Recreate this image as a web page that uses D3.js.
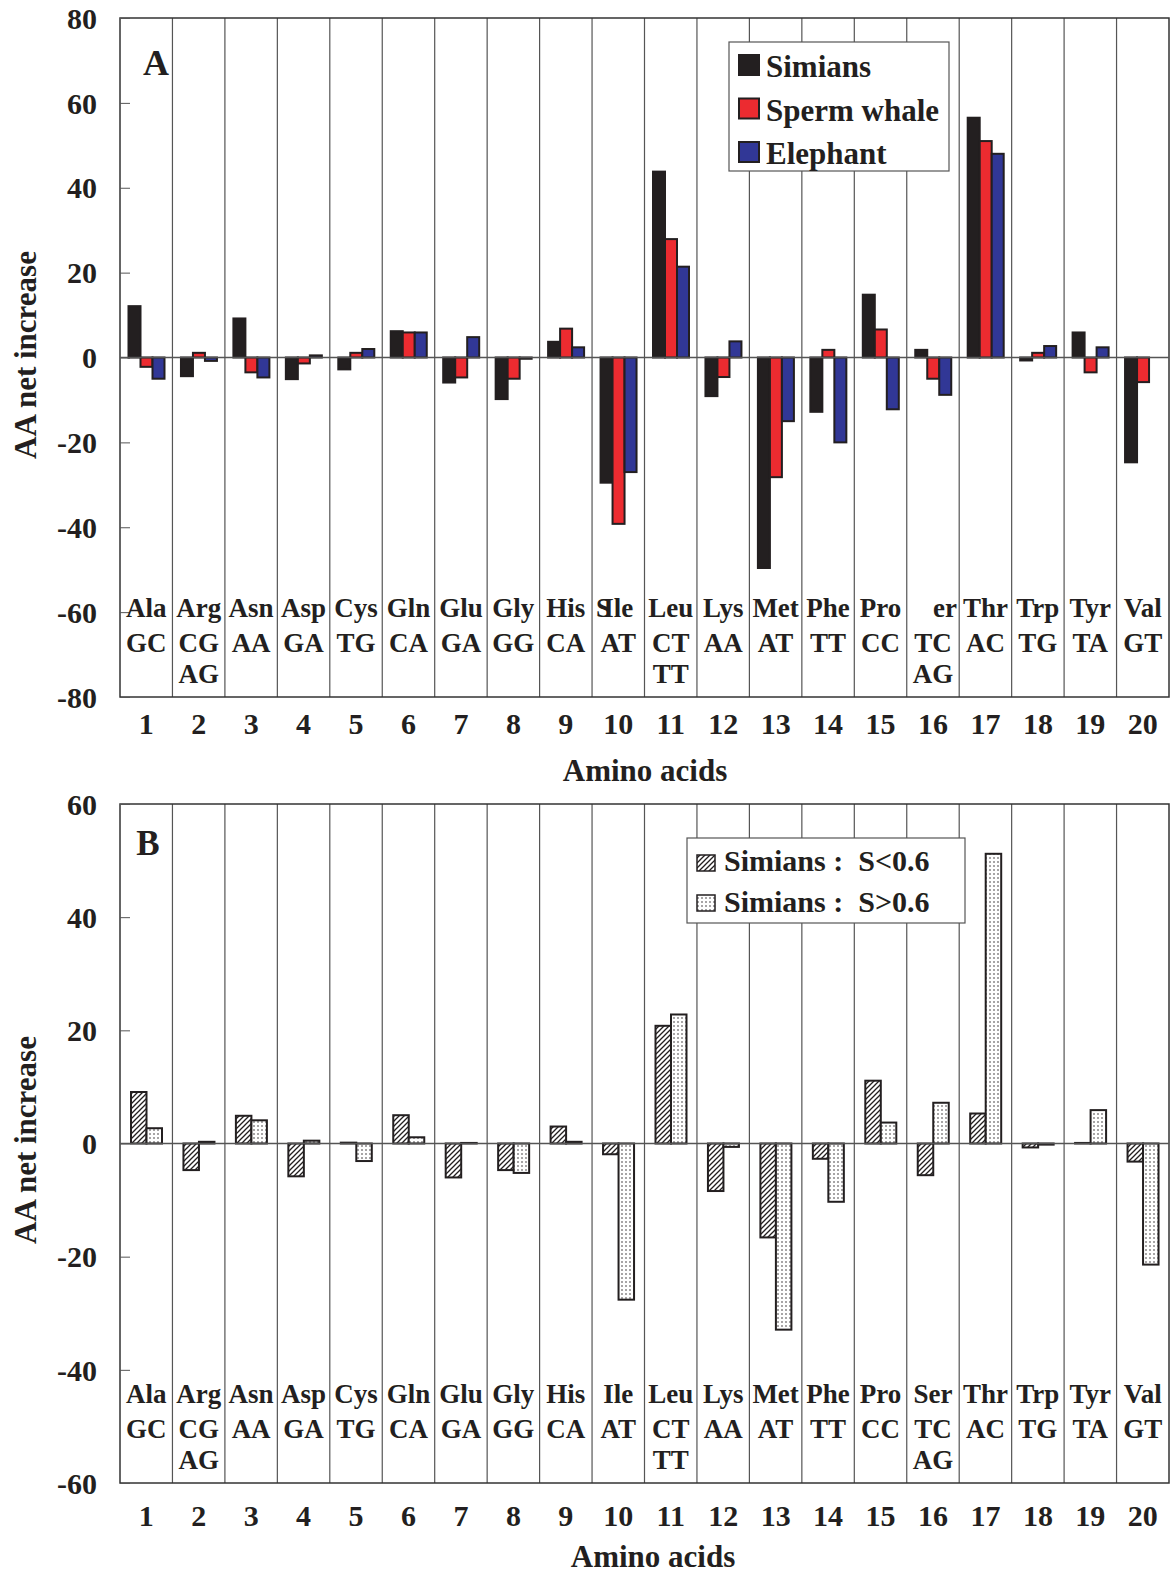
<!DOCTYPE html>
<html>
<head>
<meta charset="utf-8">
<script src="https://cdn.jsdelivr.net/npm/d3@7"></script>
<style>
  body { margin: 0; background: #fff; }
  svg text { font-family: "Liberation Serif", "Times New Roman", serif; font-weight: bold; fill: #231f20; }
</style>
</head>
<body>
<svg id="chart" width="1171" height="1573"></svg>
<script>
// amino acids and their codon rows
const aminoAcids = ["Ala","Arg","Asn","Asp","Cys","Gln","Glu","Gly","His","Ile","Leu","Lys","Met","Phe","Pro","Ser","Thr","Trp","Tyr","Val"];
const codons = [["GC"],["CG","AG"],["AA"],["GA"],["TG"],["CA"],["GA"],["GG"],["CA"],["AT"],["CT","TT"],["AA"],["AT"],["TT"],["CC"],["TC","AG"],["AC"],["TG"],["TA"],["GT"]];
const numbers = d3.range(1, 21).map(String);

// panel A series
const simians    = [12.1, -4.4, 9.2, -5.1, -2.8, 6.2, -5.9, -9.8, 3.7, -29.5, 43.8, -9.1, -49.6, -12.8, 14.8, 1.8, 56.5, -0.7, 5.9, -24.7];
const spermWhale = [-2.2, 1.1, -3.5, -1.4, 1.1, 5.9, -4.7, -5.0, 6.8, -39.2, 27.9, -4.6, -28.2, 1.8, 6.6, -5.0, 51.0, 1.1, -3.5, -5.8];
const elephant   = [-5.0, -0.8, -4.7, 0.5, 2.0, 5.9, 4.8, -0.3, 2.4, -27.0, 21.4, 3.8, -15.0, -20.0, -12.2, -8.8, 48.0, 2.7, 2.4, null];
const seriesA = ["Simians", "Sperm whale", "Elephant"];
const colorsA = ["#231f20", "#ec2b30", "#313796"];
const ticksA = [-80, -60, -40, -20, 0, 20, 40, 60, 80];

// panel B series
const sLow  = [9.1, -4.7, 4.9, -5.8, 0.15, 5.0, -6.0, -4.7, 3.0, -1.9, 20.8, -8.4, -16.6, -2.7, 11.1, -5.6, 5.3, -0.7, 0.1, -3.2];
const sHigh = [2.7, 0.3, 4.1, 0.5, -3.1, 1.1, 0.1, -5.2, 0.3, -27.6, 22.8, -0.6, -32.9, -10.3, 3.7, 7.2, 51.2, -0.2, 5.9, -21.4];
const seriesB = ["Simians :  S<0.6", "Simians :  S>0.6"];
const ticksB = [-60, -40, -20, 0, 20, 40, 60];

const svg = d3.select("#chart");
const left = 120, right = 1169;
const ink = "#231f20";

// fill patterns for panel B
const defs = svg.append("defs");
const hatch = defs.append("pattern").attr("id", "hatch")
  .attr("patternUnits", "userSpaceOnUse").attr("width", 5).attr("height", 5);
hatch.append("rect").attr("width", 5).attr("height", 5).attr("fill", "#fff");
hatch.append("path").attr("d", "M0,5 L5,0 M-1,1 L1,-1 M4,6 L6,4")
  .attr("stroke", ink).attr("stroke-width", 1.3);
const dots = defs.append("pattern").attr("id", "dots")
  .attr("patternUnits", "userSpaceOnUse").attr("width", 4).attr("height", 4);
dots.append("rect").attr("width", 4).attr("height", 4).attr("fill", "#fff");
dots.append("circle").attr("cx", 2).attr("cy", 2).attr("r", 0.75).attr("fill", ink);

const x = d3.scaleBand().domain(numbers).range([left, right]).padding(0);

function drawPanel(cfg) {
  const g = svg.append("g");
  const y = d3.scaleLinear().domain(cfg.domain).range([cfg.bottom, cfg.top]);

  // column separators
  g.selectAll(".sep").data(numbers.slice(1)).join("line")
    .attr("x1", d => x(d)).attr("x2", d => x(d))
    .attr("y1", cfg.top).attr("y2", cfg.bottom)
    .attr("stroke", "#555").attr("stroke-width", 1.2);

  // frame
  g.append("rect").attr("x", left).attr("y", cfg.top)
    .attr("width", right - left).attr("height", cfg.bottom - cfg.top)
    .attr("fill", "none").attr("stroke", "#333").attr("stroke-width", 1.5);

  // y axis with inward ticks, plain hyphen for negatives
  const yAxis = g.append("g").attr("transform", `translate(${left},0)`)
    .call(d3.axisLeft(y).tickValues(cfg.ticks).tickFormat(d => String(d))
      .tickSize(-10).tickPadding(23).tickSizeOuter(0));
  yAxis.select(".domain").remove();
  yAxis.selectAll(".tick line").attr("stroke", "#555");
  yAxis.selectAll("text").attr("font-size", 30).attr("fill", ink)
    .attr("font-family", "Liberation Serif").attr("font-weight", "bold").attr("dy", "0.34em");

  // bars
  const inner = d3.scaleBand().domain(d3.range(cfg.series.length)).range(cfg.inner);
  cfg.series.forEach((vals, si) => {
    g.selectAll(".bar" + si).data(vals.map((v, i) => ({ v, i })).filter(d => d.v !== null))
      .join("rect")
      .attr("x", d => x(numbers[d.i]) + inner(si))
      .attr("width", inner.bandwidth())
      .attr("y", d => y(Math.max(0, d.v)))
      .attr("height", d => Math.abs(y(d.v) - y(0)))
      .attr("fill", cfg.fills[si])
      .attr("stroke", ink).attr("stroke-width", 2);
  });

  // zero line
  g.append("line").attr("x1", left).attr("x2", right)
    .attr("y1", y(0)).attr("y2", y(0))
    .attr("stroke", "#555").attr("stroke-width", 1.3);

  // amino acid names and codons
  g.selectAll(".aa").data(cfg.names).join("text")
    .attr("x", (d, i) => x(numbers[i]) + x.bandwidth() / 2)
    .attr("y", cfg.bottom - 80)
    .attr("text-anchor", "middle").attr("font-size", 27)
    .text(d => d);
  codons.forEach((rows, i) => {
    rows.forEach((c, r) => {
      g.append("text")
        .attr("x", x(numbers[i]) + x.bandwidth() / 2)
        .attr("y", cfg.bottom - 45 + r * 31)
        .attr("text-anchor", "middle").attr("font-size", 27)
        .text(c);
    });
  });

  // x axis numbers
  const xAxis = g.append("g").attr("transform", `translate(0,${cfg.bottom})`)
    .call(d3.axisBottom(x).tickSize(0).tickPadding(cfg.numPad));
  xAxis.select(".domain").remove();
  xAxis.selectAll("text").attr("font-size", 30).attr("fill", ink)
    .attr("font-family", "Liberation Serif").attr("font-weight", "bold");

  g.append("text").attr("x", cfg.titleX).attr("y", cfg.bottom + 84)
    .attr("text-anchor", "middle").attr("font-size", 31).text("Amino acids");

  g.append("text")
    .attr("transform", `translate(36,${cfg.yTitleY}) rotate(-90)`)
    .attr("text-anchor", "middle").attr("font-size", 31).text("AA net increase");

  g.append("text").attr("x", cfg.letter.x).attr("y", cfg.letter.y)
    .attr("text-anchor", "middle").attr("font-size", cfg.letter.size).text(cfg.letter.t);

  return g;
}

// panel A labels: the "S" of Ser sits on top of Ile in the original
const namesA = aminoAcids.map(d => d === "Ser" ? "" : d);
const gA = drawPanel({
  top: 18, bottom: 697, domain: [-80, 80], ticks: ticksA,
  series: [simians, spermWhale, elephant], fills: colorsA, inner: [8.5, 44.5],
  names: namesA, numPad: 16, titleX: 645, yTitleY: 355,
  letter: { t: "A", x: 156, y: 75, size: 36 }
});
gA.append("text").attr("x", x("10") + 4).attr("y", 697 - 80)
  .attr("font-size", 27).text("S");
gA.append("text").attr("x", x("16") + x.bandwidth() / 2 + 24).attr("y", 697 - 80)
  .attr("text-anchor", "end").attr("font-size", 27).text("er");

drawPanel({
  top: 804, bottom: 1483, domain: [-60, 60], ticks: ticksB,
  series: [sLow, sHigh], fills: ["url(#hatch)", "url(#dots)"], inner: [11, 42],
  names: aminoAcids, numPad: 22, titleX: 653, yTitleY: 1140,
  letter: { t: "B", x: 148, y: 855, size: 35 }
});

// legend A
const legA = svg.append("g");
legA.append("rect").attr("x", 729).attr("y", 42).attr("width", 220).attr("height", 129)
  .attr("fill", "#fff").attr("stroke", "#555").attr("stroke-width", 1.2);
seriesA.forEach((s, i) => {
  legA.append("rect").attr("x", 739).attr("y", 55 + i * 43.5).attr("width", 20).attr("height", 20)
    .attr("fill", colorsA[i]).attr("stroke", ink).attr("stroke-width", 2);
  legA.append("text").attr("x", 766).attr("y", 77 + i * 43.5).attr("font-size", 31).text(s);
});

// legend B
const legB = svg.append("g");
legB.append("rect").attr("x", 687).attr("y", 838).attr("width", 278).attr("height", 85)
  .attr("fill", "#fff").attr("stroke", "#555").attr("stroke-width", 1.2);
["url(#hatch)", "url(#dots)"].forEach((f, i) => {
  legB.append("rect").attr("x", 697).attr("y", 855 + i * 40).attr("width", 18).attr("height", 16)
    .attr("fill", f).attr("stroke", ink).attr("stroke-width", 1.5);
  legB.append("text").attr("x", 724).attr("y", 871 + i * 41).attr("font-size", 30)
    .attr("xml:space", "preserve").text(seriesB[i]);
});
</script>
</body>
</html>
